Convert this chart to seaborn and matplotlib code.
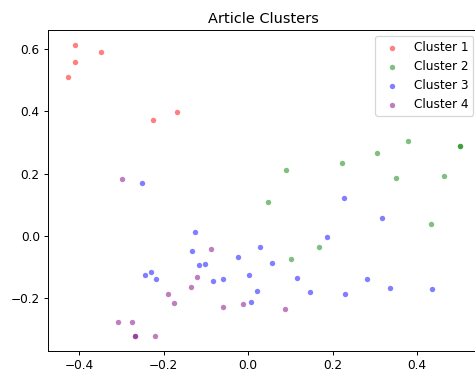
import matplotlib
matplotlib.use("Agg")
import matplotlib.pyplot as plt
import seaborn as sns
import pandas as pd

cluster_names = ["Cluster 1", "Cluster 2", "Cluster 3", "Cluster 4"]
cluster_colors = ["red", "green", "blue", "purple"]

c1_x = [-0.409, -0.349, -0.409, -0.427, -0.226, -0.168]
c1_y = [0.614, 0.591, 0.558, 0.511, 0.371, 0.399]

c2_x = [0.047, 0.089, 0.102, 0.167, 0.223, 0.306, 0.378, 0.349, 0.464, 0.433, 0.501, 0.501]
c2_y = [0.108, 0.212, -0.075, -0.036, 0.235, 0.266, 0.304, 0.187, 0.193, 0.039, 0.289, 0.289]

c3_x = [-0.252, -0.125, -0.133, -0.117, -0.102, -0.244, -0.231, -0.219, -0.084, -0.059,
        -0.024, 0.028, 0.057, 0.001, 0.116, 0.020, 0.006, 0.147, 0.230, 0.186,
        0.226, 0.316, 0.281, 0.335, 0.436]
c3_y = [0.171, 0.011, -0.050, -0.095, -0.091, -0.126, -0.115, -0.139, -0.145, -0.139,
        -0.067, -0.036, -0.086, -0.126, -0.134, -0.176, -0.214, -0.181, -0.187, -0.003,
        0.122, 0.058, -0.139, -0.167, -0.171]

c4_x = [-0.298, -0.088, -0.121, -0.135, -0.190, -0.176, -0.059, -0.309, -0.275,
        -0.269, -0.269, -0.221, -0.013, 0.088]
c4_y = [0.184, -0.042, -0.131, -0.165, -0.188, -0.215, -0.228, -0.276, -0.276,
        -0.323, -0.323, -0.321, -0.219, -0.235]

xs = [c1_x, c2_x, c3_x, c4_x]
ys = [c1_y, c2_y, c3_y, c4_y]

DPI = 86.9
fig = plt.figure(figsize=(475 / DPI, 373 / DPI), dpi=DPI)
ax = fig.add_axes([48.3 / 475, 22 / 373, (479.4 - 48.3) / 475, 321 / 373])

for name, color, x, y in zip(cluster_names, cluster_colors, xs, ys):
    df = pd.DataFrame({"x": x, "y": y})
    sns.scatterplot(data=df, x="x", y="y", color=color, alpha=0.5, s=20,
                    linewidth=0, label=name, ax=ax)

ax.set_title("Article Clusters", fontsize=12)
ax.set_xlabel("")
ax.set_ylabel("")
ax.legend(loc="upper right", fontsize=10)

fig.savefig("out.png", dpi=DPI)
